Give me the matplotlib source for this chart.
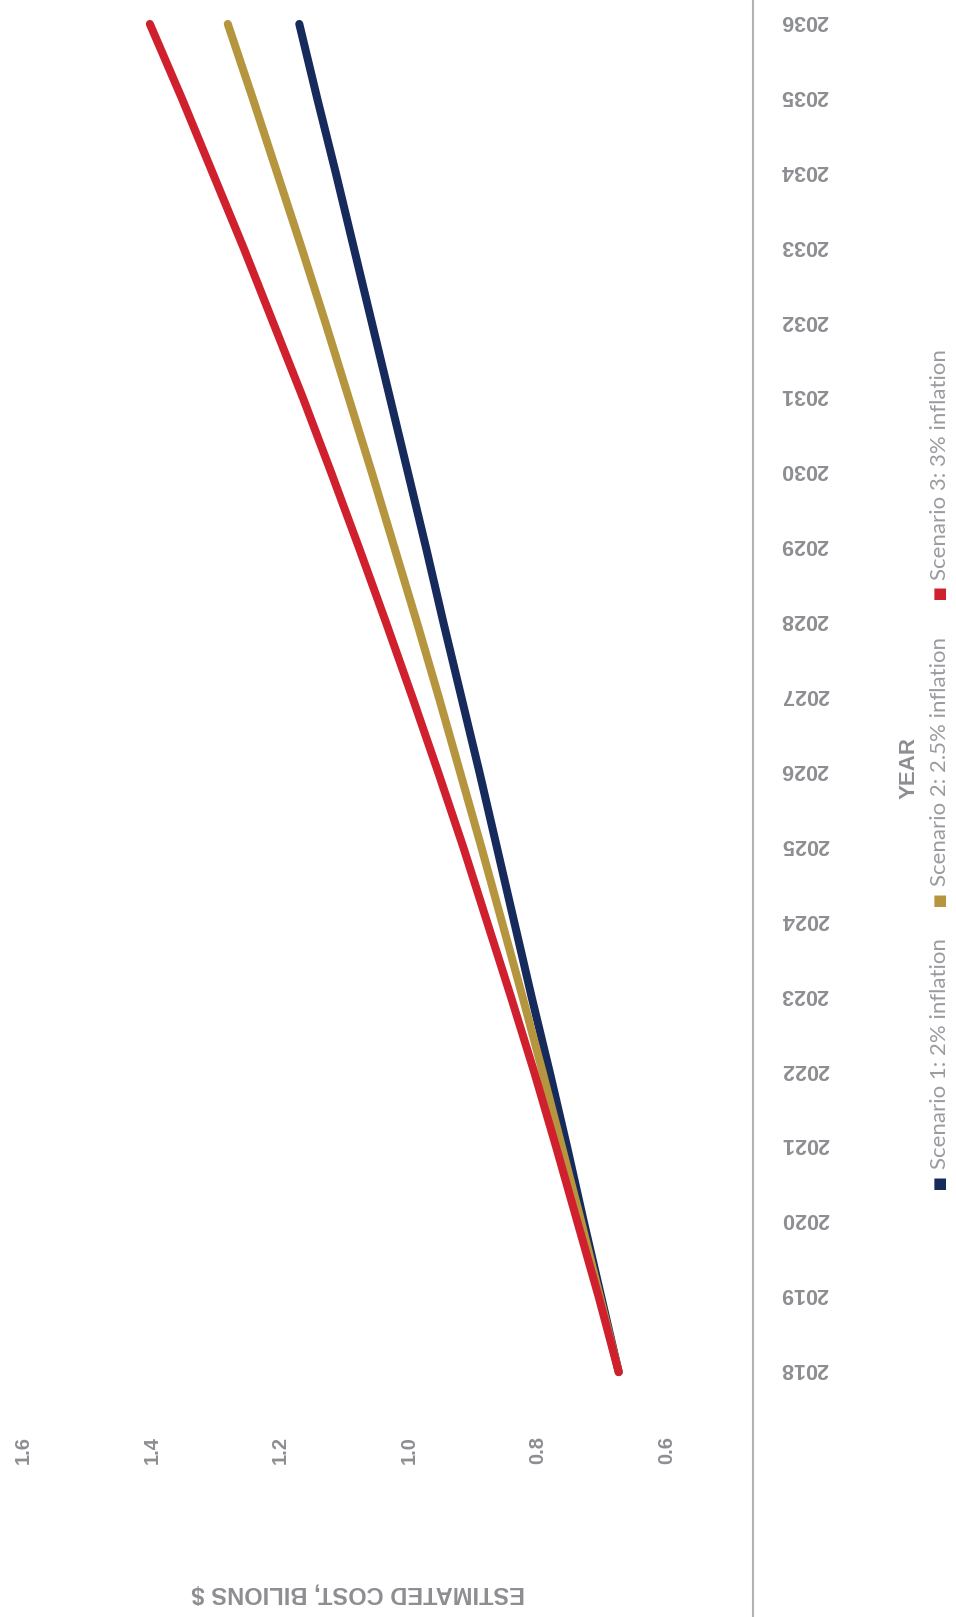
import matplotlib
matplotlib.use('Agg')
import matplotlib.pyplot as plt
from matplotlib.transforms import ScaledTranslation

# ---- data ----
years = list(range(2018, 2037))
scenario1 = [0.675, 0.702, 0.729, 0.755, 0.782, 0.810, 0.837, 0.864, 0.891, 0.919,
             0.947, 0.974, 1.002, 1.030, 1.058, 1.086, 1.114, 1.143, 1.171]
scenario2 = [0.675, 0.704, 0.733, 0.763, 0.793, 0.824, 0.856, 0.888, 0.921, 0.954,
             0.988, 1.023, 1.058, 1.094, 1.130, 1.167, 1.205, 1.243, 1.282]
scenario3 = [0.675, 0.706, 0.739, 0.772, 0.806, 0.842, 0.879, 0.916, 0.955, 0.995,
             1.036, 1.078, 1.121, 1.165, 1.211, 1.257, 1.305, 1.353, 1.403]
series_labels = ['Scenario 1: 2% inflation', 'Scenario 2: 2.5% inflation',
                 'Scenario 3: 3% inflation']
value_ticks = [0.6, 0.8, 1.0, 1.2, 1.4, 1.6]
value_tick_labels = ['0.6', '0.8', '1.0', '1.2', '1.4', '1.6']
year_tick_labels = [str(y) for y in years]
value_title = 'ESTIMATED COST, BILIONS $'
year_title = 'YEAR'

colors = ['#172a5c', '#b5953e', '#d0202e']
tick_grey = '#8d8e92'
legend_grey = '#9a9b9f'

W, H = 956, 1617
fig = plt.figure(figsize=(W / 100, H / 100), dpi=100)
fig.patch.set_facecolor('white')
ax = fig.add_axes([0, 0, 753 / W, 1])

for vals, c in zip([scenario1, scenario2, scenario3], colors):
    ax.plot(vals, years, color=c, lw=5.8, solid_capstyle='round')

ax.set_xlim(1.6357, 0.4665)
ax.set_ylim(2014.73, 2036.32)

for s in ['top', 'left', 'bottom']:
    ax.spines[s].set_visible(False)
ax.spines['right'].set_color('#b3b3b3')
ax.spines['right'].set_linewidth(1.5)

# value axis (horizontal, inverted) labels inside the figure bottom
ax.set_xticks(value_ticks)
ax.set_xticklabels(value_tick_labels, rotation=90,
                   fontfamily='Liberation Sans', fontweight='bold',
                   fontsize=14.5, color=tick_grey)
ax.tick_params(axis='x', length=0, pad=-130)

# year axis on the right
ax.yaxis.tick_right()
ax.set_yticks(years)
ax.set_yticklabels(year_tick_labels, rotation=180,
                   fontfamily='Liberation Sans', fontweight='bold',
                   fontsize=15.5, color=tick_grey)
ax.tick_params(axis='y', length=0, pad=20)
shift = ScaledTranslation(0, 0.06, fig.dpi_scale_trans)
for tk in ax.yaxis.get_major_ticks():
    tk.label2.set_transform(tk.label2.get_transform() + shift)

ax.set_xlabel(value_title, rotation=180, fontfamily='Liberation Sans',
              fontweight='bold', fontsize=17, color=tick_grey)
ax.xaxis.label.set_va('center')
ax.xaxis.set_label_coords(358 / 753, 24 / H)

ax.yaxis.set_label_position('right')
ax.set_ylabel(year_title, rotation=90, fontfamily='Liberation Sans',
              fontweight='bold', fontsize=16, color=tick_grey)
ax.yaxis.label.set_va('center')
ax.yaxis.label.set_ha('center')
ax.yaxis.set_label_coords(909 / 753, 1 - 768 / H)

# legend (rotated, drawn manually)
sq_y = [1183, 900, 594]
txt_y = [1169, 886, 580]
for lab, c, sy, ty in zip(series_labels, colors, sq_y, txt_y):
    fig.text(940 / W, 1 - sy / H, '■', color=c, fontsize=11,
             ha='center', va='center', fontfamily='DejaVu Sans')
    fig.text(940 / W, 1 - ty / H, lab, color=legend_grey, fontsize=16,
             rotation=90, rotation_mode='anchor', ha='left', va='center',
             fontfamily='Lato', fontweight='normal')

fig.savefig('out.png', dpi=100, facecolor='white')
